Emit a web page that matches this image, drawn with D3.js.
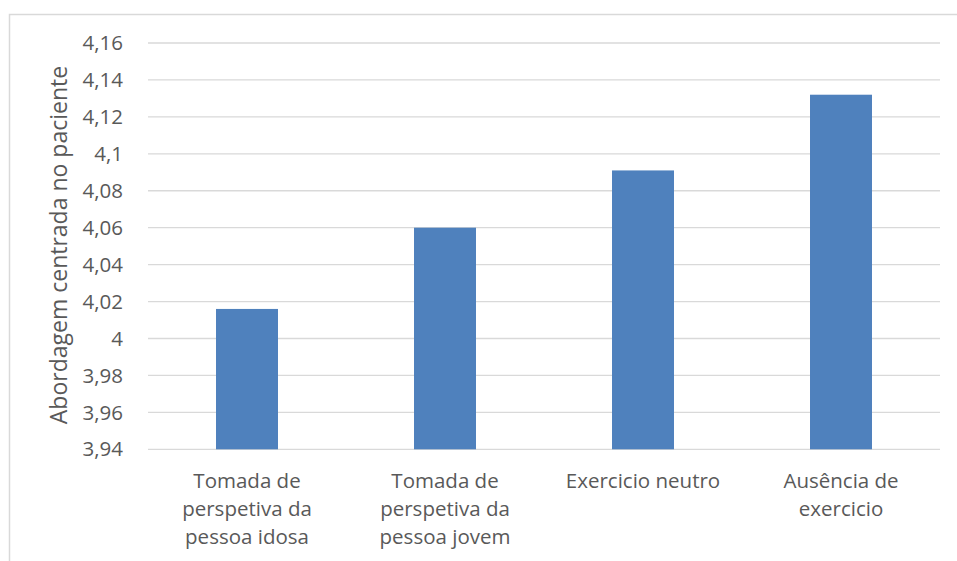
<!DOCTYPE html>
<html>
<head>
<meta charset="utf-8">
<script src="https://cdn.jsdelivr.net/npm/d3@7"></script>
<style>
  html, body { margin: 0; padding: 0; background: #fff; }
  svg { display: block; }
  text { font-family: "Open Sans", "Noto Sans", sans-serif; fill: #595959; }
</style>
</head>
<body>
<svg id="chart" width="957" height="561"></svg>
<script>
// Mean patient-centred approach score per condition
const categories = [
  ["Tomada de", "perspetiva da", "pessoa idosa"],
  ["Tomada de", "perspetiva da", "pessoa jovem"],
  ["Exercicio neutro"],
  ["Ausência de", "exercicio"]
];
const values = [4.016, 4.06, 4.091, 4.132];
const yTicks = [3.94, 3.96, 3.98, 4.00, 4.02, 4.04, 4.06, 4.08, 4.10, 4.12, 4.14, 4.16];
const yTitle = "Abordagem centrada no paciente";

const svg = d3.select("#chart");
const W = 957, H = 561;
const plot = { left: 148, right: 940, top: 43, bottom: 449.3 };

// outer chart frame (top and left edges visible)
svg.append("path")
  .attr("d", `M9.5,${H} L9.5,14.5 L${W},14.5`)
  .attr("fill", "none")
  .attr("stroke", "#d9d9d9")
  .attr("stroke-width", 1.5);

const x = d3.scaleBand()
  .domain(d3.range(categories.length))
  .range([plot.left, plot.right])
  .padding(0);

const y = d3.scaleLinear()
  .domain([3.94, 4.16])
  .range([plot.bottom, plot.top]);

const fmt = v => (+v.toFixed(2)).toString().replace(".", ",");

// horizontal gridlines
svg.append("g")
  .selectAll("line")
  .data(yTicks)
  .join("line")
  .attr("x1", plot.left)
  .attr("x2", plot.right)
  .attr("y1", d => y(d))
  .attr("y2", d => y(d))
  .attr("stroke", "#d9d9d9")
  .attr("stroke-width", 1.3);

// y tick labels
svg.append("g")
  .selectAll("text")
  .data(yTicks)
  .join("text")
  .attr("x", 123)
  .attr("y", d => y(d))
  .attr("dy", "0.35em")
  .attr("text-anchor", "end")
  .attr("font-size", 20.5)
  .text(fmt);

// bars
const barW = x.bandwidth() * 0.313;
svg.append("g")
  .selectAll("rect")
  .data(values)
  .join("rect")
  .attr("x", (d, i) => x(i) + (x.bandwidth() - barW) / 2)
  .attr("y", d => y(d))
  .attr("width", barW)
  .attr("height", d => y(3.94) - y(d))
  .attr("fill", "#4f81bd");

// category labels
const lab = svg.append("g")
  .selectAll("text")
  .data(categories)
  .join("text")
  .attr("text-anchor", "middle")
  .attr("font-size", 20.5)
  .attr("transform", (d, i) => `translate(${x(i) + x.bandwidth() / 2},488)`);
lab.selectAll("tspan")
  .data(d => d)
  .join("tspan")
  .attr("x", 0)
  .attr("y", (d, i) => i * 28)
  .text(d => d);

// y axis title
svg.append("text")
  .attr("transform", `translate(67,245) rotate(-90)`)
  .attr("text-anchor", "middle")
  .attr("font-size", 23)
  .text(yTitle);
</script>
</body>
</html>
